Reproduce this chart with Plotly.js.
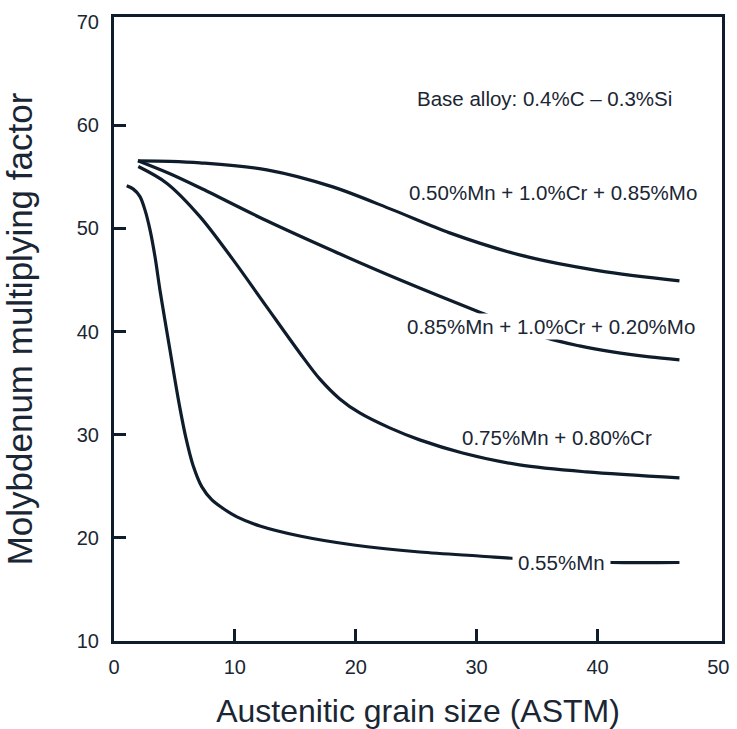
<!DOCTYPE html>
<html>
<head>
<meta charset="utf-8">
<script src="https://cdn.plot.ly/plotly-3.0.1.min.js"></script>
<style>html,body{margin:0;padding:0;background:#fff;}#chart{width:737px;height:729px;}</style>
</head>
<body>
<div id="chart"></div>
<script>
// Series: 0.55%Mn
const mn055_x = [1.05, 1.60, 2.15, 2.56, 2.98, 3.39, 3.80, 4.21, 4.63, 5.04, 5.45, 5.95, 6.53, 7.27, 8.10, 9.09, 10.17, 12.07, 15.37, 19.83, 25.29, 30.17, 35.21, 41.24, 46.78];
const mn055_y = [54.13, 53.81, 53.09, 51.80, 49.86, 47.27, 44.04, 41.13, 38.22, 35.32, 32.60, 29.69, 27.07, 24.94, 23.68, 22.80, 22.03, 21.15, 20.18, 19.31, 18.63, 18.24, 17.86, 17.61, 17.61];
// Series: 0.75%Mn + 0.80%Cr
const mncr_x = [2.01, 4.36, 7.11, 9.86, 12.62, 15.37, 17.02, 18.68, 20.33, 22.81, 25.29, 28.84, 33.55, 39.09, 46.78];
const mncr_y = [56.00, 54.39, 51.15, 46.95, 42.42, 37.93, 35.41, 33.47, 32.11, 30.66, 29.50, 28.23, 27.07, 26.39, 25.81];
// Series: 0.85%Mn + 1.0%Cr + 0.20%Mo
const mo020_x = [1.98, 4.63, 7.11, 12.64, 18.10, 23.64, 30.41, 35.79, 38.51, 41.24, 44.30, 46.78];
const mo020_y = [56.56, 55.30, 53.94, 50.74, 47.83, 45.02, 41.81, 39.39, 38.61, 38.03, 37.55, 37.26];
// Series: 0.50%Mn + 1.0%Cr + 0.85%Mo
const mo085_x = [1.98, 4.63, 7.11, 12.64, 18.10, 23.06, 27.77, 33.55, 40.17, 46.78];
const mo085_y = [56.56, 56.51, 56.36, 55.68, 54.03, 51.80, 49.57, 47.44, 45.89, 44.92];

const labels = ["Base alloy: 0.4%C \u2013 0.3%Si", "0.50%Mn + 1.0%Cr + 0.85%Mo", "0.85%Mn + 1.0%Cr + 0.20%Mo", "0.75%Mn + 0.80%Cr", "0.55%Mn"];
const label_x = [35.60, 36.28, 36.12, 36.61, 37.02];
const label_y = [62.57, 53.45, 40.45, 29.69, 17.57];
const label_bg = [false, false, true, false, true];
const label_pad = [3, 3, 1, 3, 5];

const xticks = [0, 10, 20, 30, 40, 50];
const xmarks = [10, 20, 30, 40];
const yticks = [10, 20, 30, 40, 50, 60, 70];
const ymarks = [20, 30, 40, 50, 60];

const LINE = '#0e1c2b';
const TEXT = '#1a2634';
const FONT = 'Liberation Sans, Arial, sans-serif';

const series = [[mn055_x, mn055_y], [mncr_x, mncr_y], [mo020_x, mo020_y], [mo085_x, mo085_y]];
const traces = series.map(s => ({
  x: s[0], y: s[1], type: 'scatter', mode: 'lines',
  line: {color: LINE, width: 3.2, shape: 'spline', smoothing: 0.9},
  hoverinfo: 'skip', showlegend: false
}));

const annotations = labels.map((t, i) => ({
  x: label_x[i], y: label_y[i], xref: 'x', yref: 'y', text: t, showarrow: false,
  font: {family: FONT, size: 20.5, color: TEXT},
  bgcolor: label_bg[i] ? '#ffffff' : 'rgba(0,0,0,0)', borderpad: label_pad[i]
}));

const layout = {
  width: 737, height: 729,
  margin: {l: 114, r: 15, t: 17, b: 88},
  paper_bgcolor: '#fff', plot_bgcolor: '#fff',
  showlegend: false,
  font: {family: FONT, color: TEXT},
  xaxis: {
    range: [0, 50.3], tickvals: xticks, ticktext: xticks.map(String),
    ticks: '', ticklabelstandoff: 6,
    minor: {tickvals: xmarks, ticks: 'inside', ticklen: 12, tickwidth: 3, tickcolor: LINE, showgrid: false},
    showline: true, linecolor: LINE, linewidth: 3, mirror: true,
    showgrid: false, zeroline: false,
    tickfont: {family: FONT, size: 20, color: TEXT},
    title: {text: 'Austenitic grain size (ASTM)', font: {family: FONT, size: 32, color: TEXT}, standoff: 28},
    automargin: false
  },
  yaxis: {
    range: [10, 70.5], tickvals: yticks, ticktext: yticks.map(String),
    ticks: '', ticklabelstandoff: 8,
    minor: {tickvals: ymarks, ticks: 'inside', ticklen: 12, tickwidth: 3, tickcolor: LINE, showgrid: false},
    showline: true, linecolor: LINE, linewidth: 3, mirror: true,
    showgrid: false, zeroline: false,
    tickfont: {family: FONT, size: 20, color: TEXT},
    title: {text: 'Molybdenum multiplying factor', font: {family: FONT, size: 35, color: TEXT}, standoff: 40},
    automargin: false
  },
  annotations: annotations
};

Plotly.newPlot('chart', traces, layout, {displayModeBar: false, staticPlot: true});
</script>
</body>
</html>
